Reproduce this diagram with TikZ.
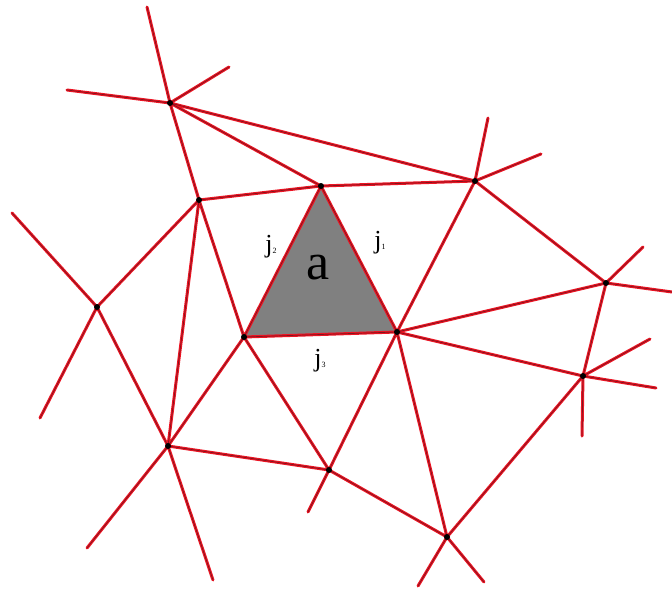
\documentclass[tikz,border=0pt]{standalone}
\usepackage{fontspec}
\setmainfont{Liberation Serif}
\begin{document}
\begin{tikzpicture}[x=1pt,y=-1pt,
  edgeline/.style={draw={rgb,255:red,235;green,20;blue,35},line width=3pt,line cap=round},
  corel/.style={draw={rgb,255:red,130;green,20;blue,30},line width=0.7pt,line cap=round},
  vtx/.style={circle,fill=black,inner sep=0pt,minimum size=6pt},
  lab/.style={inner sep=0pt,font=\fontsize{26}{28}\selectfont}]
\useasboundingbox (0,0) rectangle (672,610);
% vertices
\coordinate (A) at (170,103);
\coordinate (B) at (199,200);
\coordinate (C) at (321,186);
\coordinate (D) at (475,181);
\coordinate (E) at (97,307);
\coordinate (F) at (244,337);
\coordinate (G) at (397,332);
\coordinate (H) at (606,283);
\coordinate (I) at (583,376);
\coordinate (J) at (168,446);
\coordinate (K) at (329,470);
\coordinate (L) at (447,537);
% free ends
\coordinate (a1) at (147,7);
\coordinate (a2) at (229,67);
\coordinate (a3) at (67,90);
\coordinate (d1) at (488,118);
\coordinate (d2) at (541,154);
\coordinate (h1) at (643,247);
\coordinate (h2) at (672,292);
\coordinate (i1) at (650,339);
\coordinate (i2) at (656,388);
\coordinate (i3) at (582,436);
\coordinate (e1) at (12,213);
\coordinate (e2) at (40,418);
\coordinate (j1) at (87,548);
\coordinate (j2) at (213,580);
\coordinate (k1) at (308,512);
\coordinate (l1) at (418,586);
\coordinate (l2) at (484,582);
% shaded triangle
\fill[gray] (C) -- (F) -- (G) -- cycle;
\foreach \st in {edgeline,corel}{
  \draw[\st] (A)--(a1) (A)--(a2) (A)--(a3)
    (A)--(B) (A)--(C) (A)--(D)
    (B)--(C) (B)--(E) (B)--(J) (B)--(F)
    (C)--(D) (C)--(F) (C)--(G) (F)--(G)
    (D)--(G) (D)--(H) (D)--(d1) (D)--(d2)
    (H)--(h1) (H)--(h2) (H)--(I) (G)--(H)
    (G)--(I) (I)--(i1) (I)--(i2) (I)--(i3)
    (G)--(L) (G)--(K) (I)--(L) (K)--(L)
    (L)--(l1) (L)--(l2)
    (E)--(e1) (E)--(e2) (E)--(J)
    (F)--(J) (F)--(K) (J)--(K)
    (J)--(j1) (J)--(j2) (K)--(k1);
}
\foreach \v in {A,B,C,D,E,F,G,H,I,J,K,L}{
  \node[vtx] (n\v) at (\v) {};
}
% labels
\node[inner sep=0pt,font=\fontsize{52}{54}\selectfont] (la) at (318,268) {a};
\node[lab] (lj2) at (271,247) {j\raisebox{-1pt}{\fontsize{8}{8}\selectfont 2}};
\node[lab] (lj1) at (380,243) {j\raisebox{-1pt}{\fontsize{8}{8}\selectfont 1}};
\node[lab] (lj3) at (320,361) {j\raisebox{-1pt}{\fontsize{8}{8}\selectfont 3}};
\end{tikzpicture}
\end{document}
